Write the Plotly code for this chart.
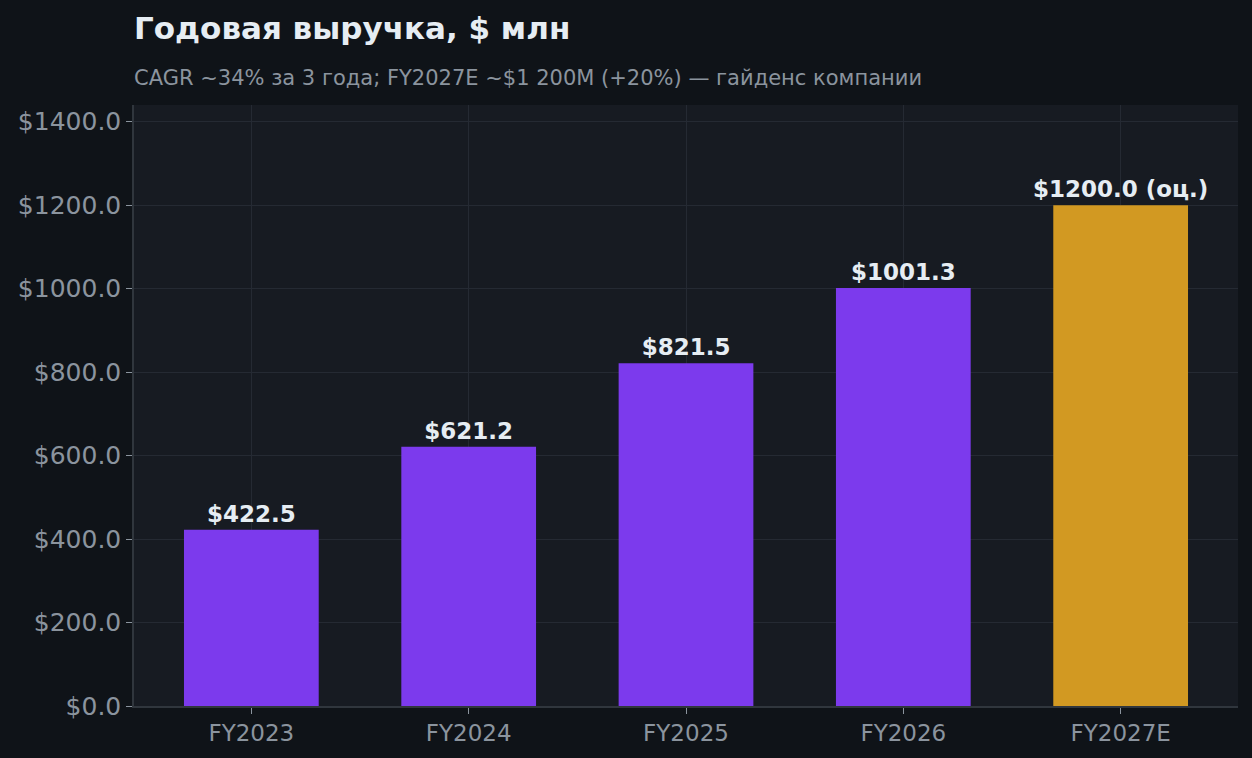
import plotly.graph_objects as go

# data
years = ["FY2023", "FY2024", "FY2025", "FY2026", "FY2027E"]
revenue = [422.5, 621.2, 821.5, 1001.3, 1200.0]
is_estimate = [False, False, False, False, True]
y_ticks = [0, 200, 400, 600, 800, 1000, 1200, 1400]

PURPLE = "#7c3aed"
GOLD = "#d29922"
TEXT = "#e6edf3"
MUTED = "#8b949e"
FONT = "DejaVu Sans"

colors = [GOLD if e else PURPLE for e in is_estimate]
labels = ["<b>$%.1f%s</b>" % (v, " (оц.)" if e else "") for v, e in zip(revenue, is_estimate)]

fig = go.Figure()
fig.add_trace(go.Bar(
    x=list(range(len(years))), y=revenue,
    marker=dict(color=colors, line=dict(width=0)),
    width=0.62,
    text=labels, textposition="outside", cliponaxis=False,
    constraintext="none",
    textfont=dict(family=FONT, size=23, color=TEXT),
    hoverinfo="skip",
))

fig.update_layout(
    width=1252, height=758,
    paper_bgcolor="#0f1318",
    plot_bgcolor="#171b22",
    margin=dict(l=134, r=14, t=105, b=52),
    showlegend=False,
    font=dict(family=FONT, color=MUTED),
    annotations=[
        dict(text="<b>Годовая выручка, $ млн</b>", xref="paper", yref="paper",
             x=0, y=1, xanchor="left", yanchor="middle", yshift=77, xshift=-2,
             showarrow=False, font=dict(family=FONT, size=31, color=TEXT)),
        dict(text="CAGR ~34% за 3 года; FY2027E ~$1 200M (+20%) — гайденс компании",
             xref="paper", yref="paper", x=0, y=1, xanchor="left", yanchor="middle",
             yshift=27, xshift=-2, showarrow=False, font=dict(family=FONT, size=21, color=MUTED)),
    ],
)

fig.update_xaxes(
    range=[-0.54, 4.54],
    tickmode="array", tickvals=list(range(len(years))), ticktext=years,
    showgrid=True, gridcolor="#252a33", gridwidth=1,
    showline=True, linecolor="#30363d", linewidth=1.5,
    ticks="outside", ticklen=6, tickcolor="#8b949e",
    tickfont=dict(family=FONT, size=23, color=MUTED),
    zeroline=False,
)
fig.update_yaxes(
    range=[0, 1440],
    tickmode="array", tickvals=y_ticks, ticktext=["$%.1f" % t for t in y_ticks],
    showgrid=True, gridcolor="#252a33", gridwidth=1,
    showline=True, linecolor="#30363d", linewidth=1.5,
    ticks="outside", ticklen=6, tickcolor="#8b949e",
    tickfont=dict(family=FONT, size=25, color=MUTED),
    zeroline=False,
)

fig.write_html("out.html", config={"displayModeBar": False},
               post_script="document.body.style.margin='0';document.body.style.overflow='hidden';")
